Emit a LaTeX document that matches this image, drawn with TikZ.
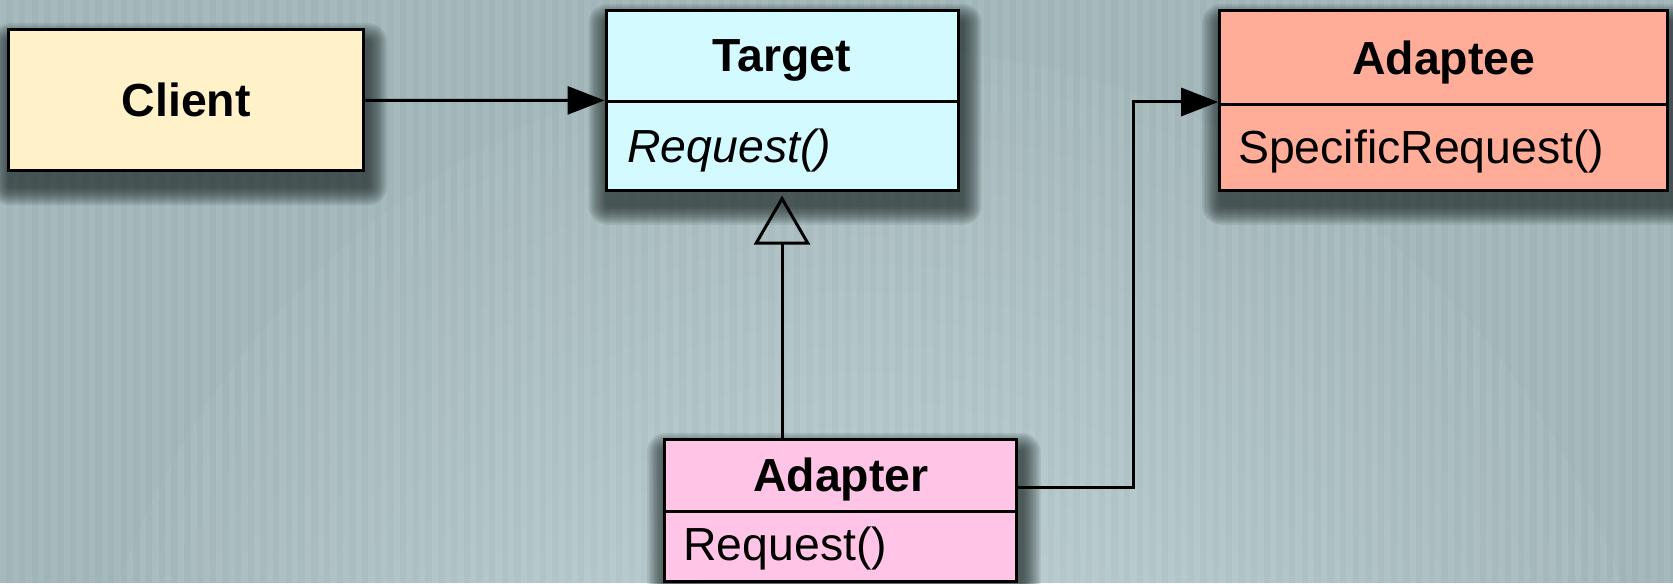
\documentclass[tikz,border=0pt]{standalone}
\usepackage{fontspec}
\setmainfont{Liberation Sans}
\usetikzlibrary{arrows.meta}

\definecolor{bgbase}{RGB}{160,181,184}
\definecolor{clientfill}{RGB}{255,241,200}
\definecolor{targetfill}{RGB}{210,250,255}
\definecolor{adapteefill}{RGB}{255,172,152}
\definecolor{adapterfill}{RGB}{255,196,230}
\definecolor{shadowgrey}{RGB}{30,40,40}

\pgfdeclarelayer{backdrop}
\pgfdeclarelayer{shade}
\pgfsetlayers{backdrop,shade,main}

% soft drop shadow under a box: stacked translucent rounded rectangles
\newcommand\boxshadow[1]{%
  \begin{pgfonlayer}{shade}
    \foreach \k in {1,...,12}{%
      \fill[shadowgrey, opacity=0.09, rounded corners=\k*0.8pt]
        ([xshift=1.5pt-\k*0.8pt, yshift=-7pt+\k*0.8pt]#1.north west)
        rectangle
        ([xshift=1.5pt+\k*0.8pt, yshift=-7pt-\k*0.8pt]#1.south east);
    }%
  \end{pgfonlayer}}

\begin{document}
\begin{tikzpicture}[x=0.5pt,y=-0.5pt,
  classbox/.style={rectangle, draw=black, line width=1.5pt, inner sep=0pt},
  txt/.style={inner sep=0pt, font=\fontsize{23.2}{28}\selectfont},
  title/.style={txt, font=\fontsize{23.2}{28}\selectfont\bfseries},
  divider/.style={line width=1.5pt},
  assoc/.style={line width=1.5pt, -{Triangle[length=18.5pt, width=14pt]}},
  inherit/.style={line width=1.5pt, -{Triangle[open, length=24.5pt, width=28pt]},
    shorten >=2pt}
]
% backdrop: striped grey-blue with a faint lighter disc
\useasboundingbox (0,0) rectangle (1673,583);
\begin{pgfonlayer}{backdrop}
  \fill[bgbase] (0,0) rectangle (1673,583);
  \begin{scope}
    \clip (0,0) rectangle (1673,583);
    \fill[white, opacity=0.04] (870,843) circle (795);
    \foreach \k in {1,...,19}
      \fill[white, opacity=0.018] (870,843) circle (795-\k*27);
    \foreach \i in {0,...,132}
      \fill[white, opacity=0.07] (\i*12.7,0) rectangle ++(6.3,583);
  \end{scope}
\end{pgfonlayer}

% Client
\node[classbox, fill=clientfill, minimum width=177.6pt, minimum height=70.4pt,
      font=\fontsize{23.2}{28}\selectfont\bfseries] (client) at (186.2,100.3) {Client};
\boxshadow{client}

% Target
\node[classbox, fill=targetfill, minimum width=176pt, minimum height=89.7pt]
  (target) at (782,100.4) {};
\boxshadow{target}
\coordinate (tdiv) at (782,101.4);
\draw[divider] (target.west |- tdiv) -- (target.east |- tdiv);
\node[title] (targetname) at (782,60.5) {Target};
\node[txt, anchor=west] (targetop) at (627,151) {\itshape Request()};

% Adaptee
\node[classbox, fill=adapteefill, minimum width=224pt, minimum height=89.7pt]
  (adaptee) at (1443.7,100.4) {};
\boxshadow{adaptee}
\coordinate (adiv) at (1443.7,104.6);
\draw[divider] (adaptee.west |- adiv) -- (adaptee.east |- adiv);
\node[title] (adapteename) at (1443.7,63) {Adaptee};
\node[txt, anchor=west] (adapteeop) at (1237.7,152) {SpecificRequest()};

% Adapter
\node[classbox, fill=adapterfill, minimum width=176.1pt, minimum height=71pt]
  (adapter) at (840.8,510.5) {};
\boxshadow{adapter}
\coordinate (rdiv) at (840.8,511);
\draw[divider] (adapter.west |- rdiv) -- (adapter.east |- rdiv);
\node[title] (adaptername) at (840.8,479.5) {Adapter};
\node[txt, anchor=west] (adapterop) at (683,548.5) {Request()};

% connectors
\draw[assoc] (client.east) -- (target.west);
\draw[inherit] (adapter.north -| target.south) -- (target.south);
\coordinate (bend) at (1133,102);
\draw[assoc] ([yshift=11.5pt]adapter.east) -| (bend) -- (adaptee.west |- bend);
\end{tikzpicture}
\end{document}
